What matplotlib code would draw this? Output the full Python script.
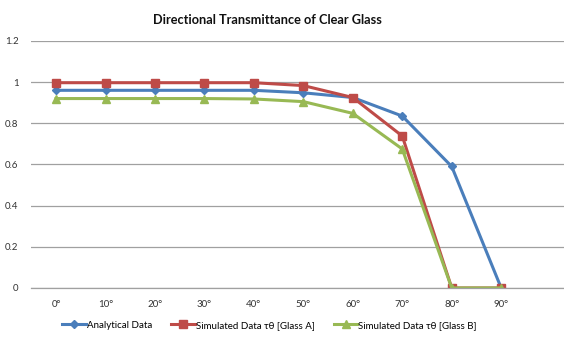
import numpy as np
import matplotlib
matplotlib.use('Agg')
import matplotlib.pyplot as plt

plt.rcParams['font.family'] = ['Lato', 'DejaVu Sans']

# Transmittance vs. incidence angle
angles = ['0°', '10°', '20°', '30°', '40°', '50°', '60°', '70°', '80°', '90°']
analytical = [0.96, 0.96, 0.96, 0.96, 0.96, 0.948, 0.925, 0.835, 0.59, 0.0]
glass_a = [0.997, 0.997, 0.997, 0.997, 0.997, 0.983, 0.925, 0.738, 0.0, 0.0]
glass_b = [0.92, 0.92, 0.92, 0.92, 0.918, 0.905, 0.848, 0.675, 0.0, 0.0]
yticks = [0, 0.2, 0.4, 0.6, 0.8, 1, 1.2]

x = np.arange(len(angles))

fig = plt.figure(figsize=(5.64, 3.38), dpi=100)
ax = fig.add_axes([0.055, 0.148, 0.945, 0.731])

ax.plot(x, analytical, color='#4A7EBB', lw=2.2, marker='D', ms=4, label='Analytical Data')
ax.plot(x, glass_a, color='#BE4B48', lw=2.2, marker='s', ms=6, label='Simulated Data τθ [Glass A]')
ax.plot(x, glass_b, color='#98B954', lw=2.2, marker='^', ms=6, label='Simulated Data τθ [Glass B]')

ax.set_ylim(0, 1.2)
ax.set_yticks(yticks)
ax.set_yticklabels(['0', '0.2', '0.4', '0.6', '0.8', '1', '1.2'])
ax.set_xlim(-0.506, 10.27)
ax.set_xticks(x)
ax.set_xticklabels(angles)
ax.tick_params(length=0, labelsize=7, colors='#333333')
ax.tick_params(axis='x', pad=9)
ax.tick_params(axis='y', pad=9)
ax.grid(axis='y', color='#A0A0A0', lw=0.9)
ax.set_axisbelow(True)
for side in ['top', 'right', 'left']:
    ax.spines[side].set_visible(False)
ax.spines['bottom'].set_color('#A0A0A0')
ax.spines['bottom'].set_linewidth(0.9)

fig.text(0.474, 0.94, 'Directional Transmittance of Clear Glass', ha='center', va='center',
         fontsize=9.2, fontweight='bold', color='#111111')

fig.legend(loc='center', bbox_to_anchor=(0.478, 0.038), ncol=3, frameon=False,
           fontsize=7, handlelength=2.4, handletextpad=0.1, columnspacing=2.0)

fig.savefig('out.png', dpi=100)
